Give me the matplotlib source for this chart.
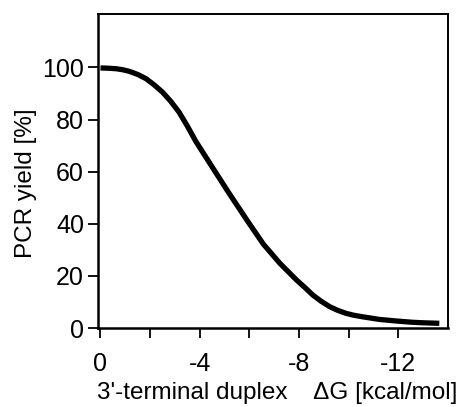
import numpy as np
import matplotlib
matplotlib.use("Agg")
import matplotlib.pyplot as plt

# curve
dg = [0, -0.3, -0.63, -0.9, -1.16, -1.5, -1.83, -2.15, -2.5, -2.83, -3.16, -3.5,
      -3.83, -4.17, -4.5, -5.16, -5.9, -6.56, -7.23, -7.9, -8.25, -8.56, -8.9, -9.23,
      -9.55, -9.9, -10.2, -10.56, -11.23, -11.9, -12.56, -13.0, -13.65]
pcr_yield = [99.8, 99.7, 99.5, 99.1, 98.5, 97.3, 95.7, 93.4, 90.5, 87.0, 82.9, 77.5,
             71.8, 66.7, 61.8, 52.0, 41.4, 32.2, 24.8, 18.4, 15.4, 12.6, 10.2, 8.2,
             6.8, 5.6, 4.9, 4.3, 3.3, 2.7, 2.2, 2.0, 1.8]

x_major = [0, -4, -8, -12]
x_minor = [-2, -6, -10]
y_major = [0, 20, 40, 60, 80, 100]

plt.rcParams['font.family'] = ['Liberation Sans', 'DejaVu Sans']

fig = plt.figure(figsize=(4.61, 4.07), dpi=100)
ax = fig.add_axes([98 / 461, 1 - 328 / 407, 350 / 461, 314 / 407])

ax.plot(dg, pcr_yield, color='black', lw=3.8, solid_joinstyle='round',
        solid_capstyle='butt')

ax.set_xlim(0.1, -14)
ax.set_ylim(0, 120.5)
ax.set_xticks(x_major)
ax.set_xticklabels(['0', '-4', '-8', '-12'])
ax.set_xticks(x_minor, minor=True)
ax.set_yticks(y_major)

ax.tick_params(axis='both', which='both', direction='out', length=7, width=1.3,
               labelsize=18, color='black')
ax.tick_params(axis='x', pad=10)
ax.tick_params(axis='y', pad=3)

for side in ['left', 'bottom']:
    ax.spines[side].set_linewidth(1.8)
for side in ['top', 'right']:
    ax.spines[side].set_linewidth(1.4)

ax.set_ylabel('PCR yield [%]', fontsize=17.5)
ax.yaxis.set_label_coords(-0.175, 0.46)
ax.set_xlabel("3'-terminal duplex    \u0394G [kcal/mol]", fontsize=17.5)
ax.xaxis.set_label_coords(0.513, -0.172)

fig.savefig('out.png', dpi=100)
